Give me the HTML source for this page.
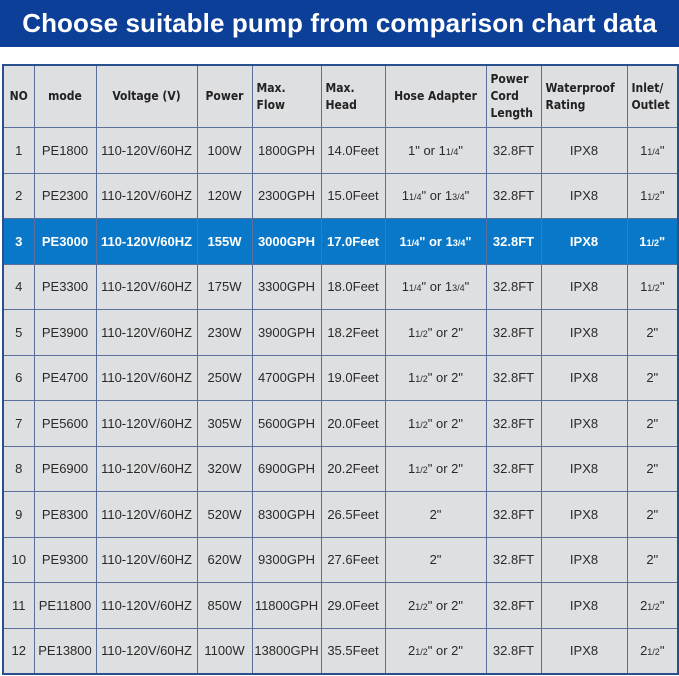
<!DOCTYPE html>
<html><head><meta charset="utf-8"><style>
body{margin:0;width:679px;height:676px;background:#fff;position:relative;overflow:hidden;font-family:"Liberation Sans",sans-serif}
.ban{position:absolute;left:0;top:0;width:679px;height:47px;background:#0b3f98;color:#fff;font-weight:bold;font-size:26px;line-height:46px;text-align:center;letter-spacing:0.1px}
table{position:absolute;left:2px;top:64px;width:675px;border-collapse:collapse;table-layout:fixed;background:#dedfe1}
td{border:1px solid #5a6f9a;text-align:center;font-size:13px;color:#2a2a2a;height:44.5px;padding:0;white-space:nowrap}
tr.h td{height:61px;font-family:"DejaVu Sans Condensed","DejaVu Sans",sans-serif;font-weight:bold;font-size:12px;color:#222;text-align:left;padding-left:4px;line-height:17px}
tr.h td.c{text-align:center;padding-left:0}
tr.s td{background:#0a78c8;color:#fff;font-weight:bold}
table{border:2px solid #2a4f8f}
small{font-size:9px}
</style></head><body>
<div class="ban">Choose suitable pump from comparison chart data</div>
<table>
<colgroup><col style="width:31px"><col style="width:62px"><col style="width:101px"><col style="width:55px"><col style="width:69px"><col style="width:64px"><col style="width:101px"><col style="width:55px"><col style="width:86px"><col style="width:51px"></colgroup>
<tr class="h"><td class="c">NO</td><td class="c">mode</td><td class="c">Voltage (V)</td><td class="c">Power</td><td>Max.<br>Flow</td><td>Max.<br>Head</td><td class="c">Hose Adapter</td><td>Power<br>Cord<br>Length</td><td>Waterproof<br>Rating</td><td>Inlet/<br>Outlet</td></tr>
<tr><td>1</td><td>PE1800</td><td>110-120V/60HZ</td><td>100W</td><td>1800GPH</td><td>14.0Feet</td><td>1" or 1<small>1/4</small>"</td><td>32.8FT</td><td>IPX8</td><td>1<small>1/4</small>"</td></tr>
<tr><td>2</td><td>PE2300</td><td>110-120V/60HZ</td><td>120W</td><td>2300GPH</td><td>15.0Feet</td><td>1<small>1/4</small>" or 1<small>3/4</small>"</td><td>32.8FT</td><td>IPX8</td><td>1<small>1/2</small>"</td></tr>
<tr class="s"><td>3</td><td>PE3000</td><td>110-120V/60HZ</td><td>155W</td><td>3000GPH</td><td>17.0Feet</td><td>1<small>1/4</small>" or 1<small>3/4</small>"</td><td>32.8FT</td><td>IPX8</td><td>1<small>1/2</small>"</td></tr>
<tr><td>4</td><td>PE3300</td><td>110-120V/60HZ</td><td>175W</td><td>3300GPH</td><td>18.0Feet</td><td>1<small>1/4</small>" or 1<small>3/4</small>"</td><td>32.8FT</td><td>IPX8</td><td>1<small>1/2</small>"</td></tr>
<tr><td>5</td><td>PE3900</td><td>110-120V/60HZ</td><td>230W</td><td>3900GPH</td><td>18.2Feet</td><td>1<small>1/2</small>" or 2"</td><td>32.8FT</td><td>IPX8</td><td>2"</td></tr>
<tr><td>6</td><td>PE4700</td><td>110-120V/60HZ</td><td>250W</td><td>4700GPH</td><td>19.0Feet</td><td>1<small>1/2</small>" or 2"</td><td>32.8FT</td><td>IPX8</td><td>2"</td></tr>
<tr><td>7</td><td>PE5600</td><td>110-120V/60HZ</td><td>305W</td><td>5600GPH</td><td>20.0Feet</td><td>1<small>1/2</small>" or 2"</td><td>32.8FT</td><td>IPX8</td><td>2"</td></tr>
<tr><td>8</td><td>PE6900</td><td>110-120V/60HZ</td><td>320W</td><td>6900GPH</td><td>20.2Feet</td><td>1<small>1/2</small>" or 2"</td><td>32.8FT</td><td>IPX8</td><td>2"</td></tr>
<tr><td>9</td><td>PE8300</td><td>110-120V/60HZ</td><td>520W</td><td>8300GPH</td><td>26.5Feet</td><td>2"</td><td>32.8FT</td><td>IPX8</td><td>2"</td></tr>
<tr><td>10</td><td>PE9300</td><td>110-120V/60HZ</td><td>620W</td><td>9300GPH</td><td>27.6Feet</td><td>2"</td><td>32.8FT</td><td>IPX8</td><td>2"</td></tr>
<tr><td>11</td><td>PE11800</td><td>110-120V/60HZ</td><td>850W</td><td>11800GPH</td><td>29.0Feet</td><td>2<small>1/2</small>" or 2"</td><td>32.8FT</td><td>IPX8</td><td>2<small>1/2</small>"</td></tr>
<tr><td>12</td><td>PE13800</td><td>110-120V/60HZ</td><td>1100W</td><td>13800GPH</td><td>35.5Feet</td><td>2<small>1/2</small>" or 2"</td><td>32.8FT</td><td>IPX8</td><td>2<small>1/2</small>"</td></tr>
</table>
</body></html>
